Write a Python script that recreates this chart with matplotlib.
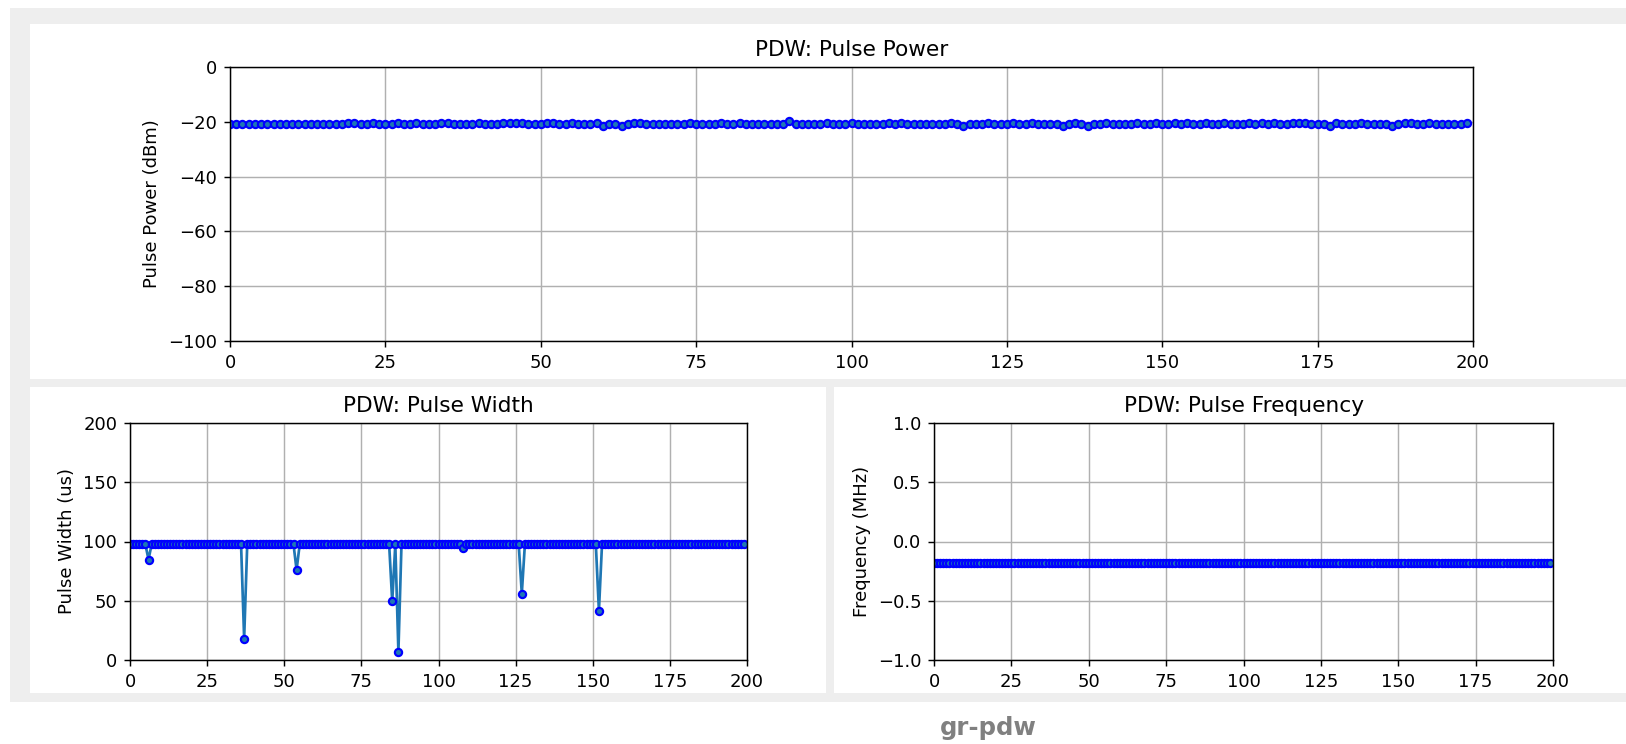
import matplotlib
matplotlib.use("Agg")
import matplotlib.pyplot as plt
from matplotlib.patches import Rectangle

# ---------------- data ----------------
pulse_index = list(range(200))

pulse_power_dbm = [
    -20.8, -20.8, -20.8, -20.8, -20.8, -20.8, -20.8, -20.8, -20.8, -20.8,
    -20.8, -20.8, -20.8, -20.8, -20.8, -20.8, -20.8, -20.8, -20.8, -20.3,
    -20.3, -20.8, -20.8, -20.3, -20.8, -20.8, -20.8, -20.3, -20.8, -20.8,
    -20.3, -20.8, -20.8, -20.8, -20.3, -20.3, -20.8, -20.8, -20.8, -20.8,
    -20.3, -20.8, -20.8, -20.8, -20.3, -20.3, -20.3, -20.3, -20.8, -20.8,
    -20.8, -20.3, -20.3, -20.8, -20.8, -20.3, -20.8, -20.8, -20.8, -20.3,
    -21.4, -20.8, -20.8, -21.4, -20.8, -20.3, -20.3, -20.8, -20.8, -20.8,
    -20.8, -20.8, -20.8, -20.8, -20.3, -20.8, -20.8, -20.8, -20.8, -20.3,
    -20.8, -20.8, -20.3, -20.8, -20.8, -20.8, -20.8, -20.8, -20.8, -20.8,
    -19.7, -20.8, -20.8, -20.8, -20.8, -20.8, -20.3, -20.8, -20.8, -20.8,
    -20.3, -20.8, -20.8, -20.8, -20.8, -20.8, -20.3, -20.8, -20.3, -20.8,
    -20.8, -20.8, -20.8, -20.8, -20.8, -20.8, -20.3, -20.8, -21.4, -20.8,
    -20.8, -20.8, -20.3, -20.8, -20.8, -20.8, -20.3, -20.8, -20.8, -20.3,
    -20.8, -20.8, -20.8, -20.8, -21.4, -20.8, -20.3, -20.8, -21.4, -20.8,
    -20.8, -20.3, -20.8, -20.8, -20.8, -20.8, -20.3, -20.8, -20.8, -20.3,
    -20.8, -20.8, -20.3, -20.8, -20.3, -20.8, -20.8, -20.3, -20.8, -20.8,
    -20.3, -20.8, -20.8, -20.8, -20.3, -20.8, -20.3, -20.8, -20.3, -20.8,
    -20.8, -20.3, -20.3, -20.3, -20.8, -20.8, -20.8, -21.4, -20.3, -20.8,
    -20.8, -20.8, -20.3, -20.8, -20.8, -20.8, -20.8, -21.4, -20.8, -20.3,
    -20.3, -20.8, -20.8, -20.3, -20.8, -20.8, -20.8, -20.8, -20.8, -20.3,
]

pulse_width_us = [
    97.5, 97.5, 97.5, 97.5, 97.5, 97.5, 84.8, 97.5, 97.5, 97.5,
    97.5, 97.5, 97.5, 97.5, 97.5, 97.5, 97.5, 97.5, 97.5, 97.5,
    97.5, 97.5, 97.5, 97.5, 97.5, 97.5, 97.5, 97.5, 97.5, 97.5,
    97.5, 97.5, 97.5, 97.5, 97.5, 97.5, 97.5, 18.0, 97.5, 97.5,
    97.5, 97.5, 97.5, 97.5, 97.5, 97.5, 97.5, 97.5, 97.5, 97.5,
    97.5, 97.5, 97.5, 97.5, 76.0, 97.5, 97.5, 97.5, 97.5, 97.5,
    97.5, 97.5, 97.5, 97.5, 97.5, 97.5, 97.5, 97.5, 97.5, 97.5,
    97.5, 97.5, 97.5, 97.5, 97.5, 97.5, 97.5, 97.5, 97.5, 97.5,
    97.5, 97.5, 97.5, 97.5, 97.5, 49.5, 97.5, 7.0, 97.5, 97.5,
    97.5, 97.5, 97.5, 97.5, 97.5, 97.5, 97.5, 97.5, 97.5, 97.5,
    97.5, 97.5, 97.5, 97.5, 97.5, 97.5, 97.5, 97.5, 94.5, 97.5,
    97.5, 97.5, 97.5, 97.5, 97.5, 97.5, 97.5, 97.5, 97.5, 97.5,
    97.5, 97.5, 97.5, 97.5, 97.5, 97.5, 97.5, 56.0, 97.5, 97.5,
    97.5, 97.5, 97.5, 97.5, 97.5, 97.5, 97.5, 97.5, 97.5, 97.5,
    97.5, 97.5, 97.5, 97.5, 97.5, 97.5, 97.5, 97.5, 97.5, 97.5,
    97.5, 97.5, 41.5, 97.5, 97.5, 97.5, 97.5, 97.5, 97.5, 97.5,
    97.5, 97.5, 97.5, 97.5, 97.5, 97.5, 97.5, 97.5, 97.5, 97.5,
    97.5, 97.5, 97.5, 97.5, 97.5, 97.5, 97.5, 97.5, 97.5, 97.5,
    97.5, 97.5, 97.5, 97.5, 97.5, 97.5, 97.5, 97.5, 97.5, 97.5,
    97.5, 97.5, 97.5, 97.5, 97.5, 97.5, 97.5, 97.5, 97.5, 97.5,
]

pulse_freq_mhz = [
    -0.18, -0.18, -0.18, -0.18, -0.18, -0.18, -0.18, -0.18, -0.18, -0.18,
    -0.18, -0.18, -0.18, -0.18, -0.18, -0.18, -0.18, -0.18, -0.18, -0.18,
    -0.18, -0.18, -0.18, -0.18, -0.18, -0.18, -0.18, -0.18, -0.18, -0.18,
    -0.18, -0.18, -0.18, -0.18, -0.18, -0.18, -0.18, -0.18, -0.18, -0.18,
    -0.18, -0.18, -0.18, -0.18, -0.18, -0.18, -0.18, -0.18, -0.18, -0.18,
    -0.18, -0.18, -0.18, -0.18, -0.18, -0.18, -0.18, -0.18, -0.18, -0.18,
    -0.18, -0.18, -0.18, -0.18, -0.18, -0.18, -0.18, -0.18, -0.18, -0.18,
    -0.18, -0.18, -0.18, -0.18, -0.18, -0.18, -0.18, -0.18, -0.18, -0.18,
    -0.18, -0.18, -0.18, -0.18, -0.18, -0.18, -0.18, -0.18, -0.18, -0.18,
    -0.18, -0.18, -0.18, -0.18, -0.18, -0.18, -0.18, -0.18, -0.18, -0.18,
    -0.18, -0.18, -0.18, -0.18, -0.18, -0.18, -0.18, -0.18, -0.18, -0.18,
    -0.18, -0.18, -0.18, -0.18, -0.18, -0.18, -0.18, -0.18, -0.18, -0.18,
    -0.18, -0.18, -0.18, -0.18, -0.18, -0.18, -0.18, -0.18, -0.18, -0.18,
    -0.18, -0.18, -0.18, -0.18, -0.18, -0.18, -0.18, -0.18, -0.18, -0.18,
    -0.18, -0.18, -0.18, -0.18, -0.18, -0.18, -0.18, -0.18, -0.18, -0.18,
    -0.18, -0.18, -0.18, -0.18, -0.18, -0.18, -0.18, -0.18, -0.18, -0.18,
    -0.18, -0.18, -0.18, -0.18, -0.18, -0.18, -0.18, -0.18, -0.18, -0.18,
    -0.18, -0.18, -0.18, -0.18, -0.18, -0.18, -0.18, -0.18, -0.18, -0.18,
    -0.18, -0.18, -0.18, -0.18, -0.18, -0.18, -0.18, -0.18, -0.18, -0.18,
    -0.18, -0.18, -0.18, -0.18, -0.18, -0.18, -0.18, -0.18, -0.18, -0.18,
]

x_ticks = [0, 25, 50, 75, 100, 125, 150, 175, 200]
power_ticks = [-100, -80, -60, -40, -20, 0]
width_ticks = [0, 50, 100, 150, 200]
freq_ticks = [-1.0, -0.5, 0.0, 0.5, 1.0]

# ---------------- figure ----------------
W, H, DPI = 1626, 744, 130
fig = plt.figure(figsize=(W / DPI, H / DPI), dpi=DPI, facecolor="white")


def px_rect(x0, y0, x1, y1, color):
    """Rectangle given in pixel coords (top-left origin) -> figure fraction."""
    r = Rectangle((x0 / W, 1 - y1 / H), (x1 - x0) / W, (y1 - y0) / H,
                  transform=fig.transFigure, facecolor=color,
                  edgecolor="none", zorder=-10)
    fig.patches.append(r)


def px_axes(x0, y0, x1, y1):
    return fig.add_axes([x0 / W, 1 - y1 / H, (x1 - x0) / W, (y1 - y0) / H])


# background frame and white panels
px_rect(10, 8, W, 702, "#eeeeee")
px_rect(30, 24, W, 379, "white")
px_rect(30, 387, 826, 693, "white")
px_rect(834, 387, W, 693, "white")

line_kw = dict(marker="o", markersize=4.0, markeredgecolor="b",
               markeredgewidth=1.2, color="C0", linewidth=1.5)

# Top: pulse power
ax1 = px_axes(230, 67, 1473, 341)
ax1.plot(pulse_index, pulse_power_dbm, **line_kw)
ax1.set_xlim(0, 200)
ax1.set_ylim(-100, 0)
ax1.set_xticks(x_ticks)
ax1.set_yticks(power_ticks)
ax1.set_title("PDW: Pulse Power")
ax1.set_ylabel("Pulse Power (dBm)")
ax1.grid(True)

# Bottom left: pulse width
ax2 = px_axes(130, 423, 747, 660)
ax2.plot(pulse_index, pulse_width_us, **line_kw)
ax2.set_xlim(0, 200)
ax2.set_ylim(0, 200)
ax2.set_xticks(x_ticks)
ax2.set_yticks(width_ticks)
ax2.set_title("PDW: Pulse Width")
ax2.set_ylabel("Pulse Width (us)")
ax2.grid(True)

# Bottom right: pulse frequency
ax3 = px_axes(934, 423, 1553, 660)
ax3.plot(pulse_index, pulse_freq_mhz, **line_kw)
ax3.set_xlim(0, 200)
ax3.set_ylim(-1, 1)
ax3.set_xticks(x_ticks)
ax3.set_yticks(freq_ticks)
ax3.set_title("PDW: Pulse Frequency")
ax3.set_ylabel("Frequency (MHz)")
ax3.grid(True)

# caption
fig.text(988 / W, 1 - 735 / H, "gr-pdw", ha="center", va="baseline",
         fontsize=13.5, fontweight="bold", color="#808080")

fig.savefig("out.png", dpi=DPI, facecolor="white")
